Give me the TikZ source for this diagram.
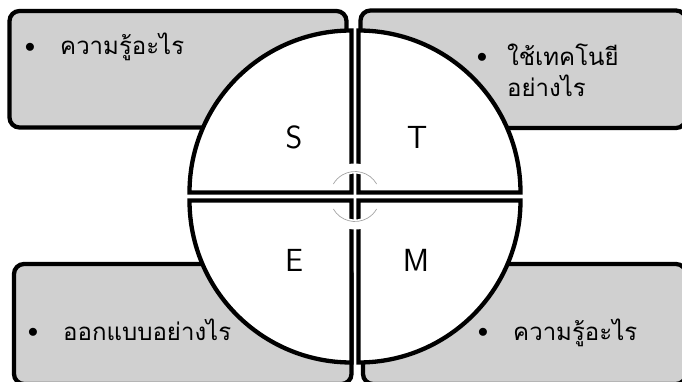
\documentclass[tikz,border=0pt]{standalone}
\usepackage{fontspec}
\newfontfamily\thaifont[Script=Thai]{Loma}
\usetikzlibrary{positioning}
\definecolor{boxgray}{RGB}{208,208,208}
\definecolor{ringgray}{RGB}{165,165,165}
\tikzset{
  % grey side panels
  sidebox/.style={line width=4.3pt, draw=black, fill=boxgray, rounded corners=10pt},
  % white quarter pieces of the disc
  quarter/.style={line width=4.3pt, draw=black, fill=white},
  % big letters in the quarters
  letter/.style={font=\sffamily\fontsize{32}{38}\selectfont, inner sep=0pt},
  % panel text
  itemtext/.style={font=\thaifont\fontsize{24}{30}\selectfont, inner sep=0pt, anchor=base west},
  bulletmark/.style={font=\fontsize{21}{26}\selectfont, inner sep=0pt, anchor=base, yshift=2.5pt},
  % little ring in the middle
  ringwhite/.style={white, line width=10pt},
  ringline/.style={ringgray, line width=0.7pt},
}

\begin{document}
\begin{tikzpicture}[x=1pt, y=1pt]
    \useasboundingbox (0,0) rectangle (682,381);
    \clip (0,0) rectangle (682,381);
    % side panels
    \draw[sidebox] (9.5,370) rectangle (346.5,253.5);
    \draw[sidebox] (360.5,370.5) rectangle (686,253);
    \draw[sidebox] (14,117) rectangle (351.5,-3);
    \draw[sidebox] (363,117) rectangle (686,-3);
    % panel texts
    \node[itemtext] (tlText) at (60,326) {ความรู้อะไร};
    \node[bulletmark, left=30pt of tlText.base west, anchor=base] (tlDot) {$\bullet$};
    \node[itemtext] (trText) at (507,316) {ใช้เทคโนยี};
    \node[itemtext] (trTextB) at (507,284) {อย่างไร};
    \node[bulletmark, left=25pt of trText.base west, anchor=base] (trDot) {$\bullet$};
    \node[itemtext] (blText) at (63,41) {ออกแบบอย่างไร};
    \node[bulletmark, left=30pt of blText.base west, anchor=base] (blDot) {$\bullet$};
    \node[itemtext] (brText) at (513,41) {ความรู้อะไร};
    \node[bulletmark, left=30pt of brText.base west, anchor=base] (brDot) {$\bullet$};
    % the four quarters
    \draw[quarter] (351.5,188.5) -- ++(-162,0) arc[start angle=180, end angle=90, radius=162] -- cycle;
    \draw[quarter] (358.5,188.5) -- ++(0,162) arc[start angle=90, end angle=0, radius=162] -- cycle;
    \draw[quarter] (351.5,180.5) -- ++(0,-162) arc[start angle=270, end angle=180, radius=162] -- cycle;
    \draw[quarter] (358.5,180.5) -- ++(162,0) arc[start angle=0, end angle=-90, radius=162] -- cycle;
    % letters
    \node[letter] (sLetter) at (294,244) {S};
    \node[letter] (tLetter) at (417,244) {T};
    \node[letter] (eLetter) at (294,121) {E};
    \node[letter] (mLetter) at (416,121) {M};
    % centre ring
    \coordinate (hub) at (355,184.5);
    \draw[ringwhite] ([shift={(30:28)}]hub) arc[start angle=30, end angle=150, radius=28];
    \draw[ringwhite] ([shift={(210:28)}]hub) arc[start angle=210, end angle=330, radius=28];
    \draw[ringline] ([shift={(30:25)}]hub) arc[start angle=30, end angle=150, radius=25];
    \draw[ringline] ([shift={(210:25)}]hub) arc[start angle=210, end angle=330, radius=25];
  \end{tikzpicture}
\end{document}
